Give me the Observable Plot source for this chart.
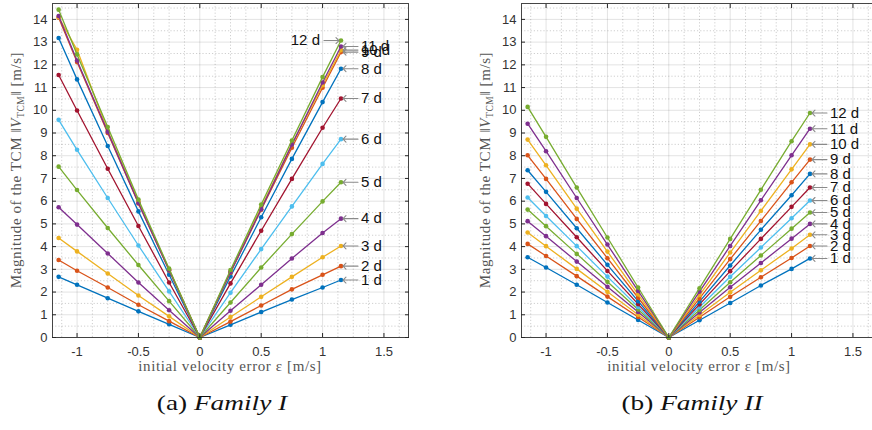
<!DOCTYPE html>
<html><head><meta charset="utf-8">
<script src="https://cdn.jsdelivr.net/npm/d3@7"></script>
<script src="https://cdn.jsdelivr.net/npm/@observablehq/plot@0.6"></script>
<style>
html,body{margin:0;padding:0;background:#fff;overflow:hidden;width:872px;height:430px;}
#wrap{position:relative;width:872px;height:430px;overflow:hidden;}
.panel{position:absolute;top:0;width:436px;height:382px;}
.panel svg{max-width:none !important;width:436px;height:382px;}
.cap{position:absolute;top:391px;font-family:"Liberation Serif",serif;font-size:21px;white-space:nowrap;color:#111;transform:translateX(-50%) scaleX(1.3);transform-origin:center;}
</style></head><body><div id="wrap"></div>
<script>
// x values (initial velocity error, m/s)
const velocityError = [-1.15, -1, -0.75, -0.5, -0.25, 0, 0.25, 0.5, 0.75, 1, 1.15];
const durations = ["1 d","2 d","3 d","4 d","5 d","6 d","7 d","8 d","9 d","10 d","11 d","12 d"];
const seriesColors = ["#0072BD","#D95319","#EDB120","#7E2F8E","#77AC30","#4DBEEE","#A2142F",
                      "#0072BD","#D95319","#EDB120","#7E2F8E","#77AC30"];

// Family I: TCM magnitude [m/s], one row per duration
const familyI = [
  [2.67, 2.32, 1.73, 1.15, 0.58, 0, 0.56, 1.12, 1.67, 2.20, 2.53],
  [3.41, 2.94, 2.20, 1.44, 0.72, 0, 0.70, 1.41, 2.12, 2.76, 3.14],
  [4.38, 3.79, 2.82, 1.85, 0.93, 0, 0.90, 1.79, 2.67, 3.53, 4.03],
  [5.73, 4.97, 3.70, 2.42, 1.20, 0, 1.18, 2.32, 3.48, 4.60, 5.23],
  [7.52, 6.49, 4.82, 3.19, 1.60, 0, 1.54, 3.08, 4.55, 5.99, 6.83],
  [9.58, 8.26, 6.14, 4.05, 2.03, 0, 1.97, 3.89, 5.77, 7.64, 8.73],
  [11.55, 9.99, 7.43, 4.91, 2.42, 0, 2.38, 4.70, 6.98, 9.23, 10.52],
  [13.18, 11.36, 8.43, 5.55, 2.76, 0, 2.69, 5.29, 7.86, 10.36, 11.83],
  [14.07, 12.12, 9.00, 5.90, 2.95, 0, 2.85, 5.62, 8.35, 10.99, 12.56],
  [14.10, 12.66, 9.10, 6.00, 3.00, 0, 2.90, 5.72, 8.50, 11.10, 12.65],
  [14.15, 12.19, 9.05, 5.92, 2.97, 0, 2.88, 5.65, 8.49, 11.22, 12.81],
  [14.43, 12.46, 9.26, 6.07, 3.03, 0, 2.97, 5.85, 8.67, 11.46, 13.07]
];
// Family II
const familyII = [
  [3.53, 3.08, 2.32, 1.54, 0.77, 0, 0.76, 1.52, 2.29, 3.02, 3.48],
  [4.12, 3.59, 2.70, 1.80, 0.90, 0, 0.89, 1.79, 2.65, 3.50, 4.03],
  [4.62, 4.02, 3.02, 2.01, 1.00, 0, 0.99, 1.99, 2.96, 3.92, 4.52],
  [5.12, 4.46, 3.34, 2.23, 1.12, 0, 1.10, 2.21, 3.28, 4.35, 5.00],
  [5.63, 4.90, 3.68, 2.45, 1.23, 0, 1.21, 2.43, 3.61, 4.79, 5.50],
  [6.16, 5.35, 4.02, 2.68, 1.34, 0, 1.33, 2.67, 3.96, 5.25, 6.03],
  [6.77, 5.88, 4.41, 2.93, 1.47, 0, 1.46, 2.92, 4.34, 5.75, 6.60],
  [7.36, 6.41, 4.81, 3.20, 1.60, 0, 1.58, 3.17, 4.74, 6.26, 7.20],
  [8.02, 6.98, 5.22, 3.49, 1.75, 0, 1.72, 3.45, 5.13, 6.83, 7.83],
  [8.71, 7.58, 5.67, 3.78, 1.90, 0, 1.87, 3.74, 5.57, 7.40, 8.50],
  [9.41, 8.20, 6.14, 4.09, 2.05, 0, 2.02, 4.03, 6.04, 8.02, 9.19],
  [10.15, 8.83, 6.60, 4.40, 2.20, 0, 2.17, 4.34, 6.50, 8.64, 9.88]
];
// label arrow side per duration ("right" = "← n d" right of point, "left" = "n d →")
const familyILabelSide  = ["right","right","right","right","right","right","right","right","right","right","right","left"];
const familyIILabelSide = ["right","right","right","right","right","right","right","right","right","right","right","right"];

const xTicks = [-1, -0.5, 0, 0.5, 1, 1.5];
const yTicks = [0,1,2,3,4,5,6,7,8,9,10,11,12,13,14];
const xMinor = [-1.125,-0.875,-0.75,-0.625,-0.375,-0.25,-0.125,0.125,0.25,0.375,0.625,0.75,0.875,1.125,1.25,1.375,1.625];
const yMinor = [0.5,1.5,2.5,3.5,4.5,5.5,6.5,7.5,8.5,9.5,10.5,11.5,12.5,13.5,14.5];
const captions = [["(a) ", "Family I"], ["(b) ", "Family II"]];

const axisColor = "#262626";

function panel(values, sides) {
  const marks = [
    Plot.gridX(xMinor, {stroke: axisColor, strokeOpacity: 0.22, strokeDasharray: "1.2,2"}),
    Plot.gridY(yMinor, {stroke: axisColor, strokeOpacity: 0.22, strokeDasharray: "1.2,2"}),
    Plot.gridX(xTicks, {stroke: axisColor, strokeOpacity: 0.13}),
    Plot.gridY(yTicks, {stroke: axisColor, strokeOpacity: 0.13})
  ];
  values.forEach((row, i) => {
    const pts = row.map((v, j) => ({x: velocityError[j], y: v}));
    marks.push(Plot.line(pts, {x: "x", y: "y", stroke: seriesColors[i], strokeWidth: 1.3}));
    marks.push(Plot.dot(pts, {x: "x", y: "y", fill: seriesColors[i], r: 2.3}));
  });
  const last = values.map((row, i) => ({x: velocityError[velocityError.length - 1], y: row[row.length - 1], label: durations[i], side: sides[i]}));
  const right = last.filter(d => d.side === "right");
  const left = last.filter(d => d.side === "left");
  const font = {fontFamily: "Liberation Sans, Arial, sans-serif", fontSize: 15};
  marks.push(
    Plot.vector(right, {x: "x", y: "y", rotate: -90, length: 15, anchor: "end", shape: "arrow", dx: 2, stroke: "#8a8a8a", strokeWidth: 1.1}),
    Plot.text(right, {x: "x", y: "y", text: "label", dx: 20, textAnchor: "start", fill: "#111", ...font}),
    Plot.vector(left, {x: "x", y: "y", rotate: 90, length: 15, anchor: "end", shape: "arrow", dx: -2, stroke: "#8a8a8a", strokeWidth: 1.1}),
    Plot.text(left, {x: "x", y: "y", text: "label", dx: -21, textAnchor: "end", fill: "#111", ...font}),
    Plot.frame({stroke: axisColor, strokeOpacity: 0.85}),
    Plot.axisY(yTicks, {anchor: "left", tickSize: -4, tickPadding: 9, label: null, tickFormat: d => String(d), fontSize: 13, color: "#333", stroke: axisColor}),
    Plot.axisY(yTicks, {anchor: "right", tickSize: -4, label: null, tickFormat: () => "", stroke: axisColor}),
    Plot.axisX(xTicks, {anchor: "bottom", tickSize: -4, tickPadding: 13, label: null, tickFormat: d => String(d), fontSize: 13, color: "#333", stroke: axisColor}),
    Plot.axisX(xTicks, {anchor: "top", tickSize: -4, label: null, tickFormat: () => "", stroke: axisColor})
  );
  const svg = Plot.plot({
    width: 436, height: 382,
    marginLeft: 52, marginRight: 28, marginTop: 3, marginBottom: 45,
    x: {domain: [-1.2, 1.7]},
    y: {domain: [0, 14.7]},
    style: {fontFamily: "Liberation Sans, Arial, sans-serif", background: "transparent", overflow: "visible", maxWidth: "none"},
    marks
  });
  const s = d3.select(svg);
  s.append("text")
    .attr("x", 230).attr("y", 371).attr("text-anchor", "middle")
    .attr("font-family", "Liberation Serif, serif").attr("font-size", 15).attr("letter-spacing", 0.6).attr("fill", "#555")
    .text("initial velocity error ε [m/s]");
  const yl = s.append("text")
    .attr("transform", "translate(21,170) rotate(-90)").attr("text-anchor", "middle")
    .attr("font-family", "Liberation Serif, serif").attr("font-size", 15).attr("letter-spacing", 0.6).attr("fill", "#555");
  yl.append("tspan").text("Magnitude of the TCM ‖");
  yl.append("tspan").attr("font-style", "italic").text("V");
  yl.append("tspan").attr("font-size", 9.5).attr("dy", 3).text("TCM");
  yl.append("tspan").attr("dy", -3).text("‖ [m/s]");
  return svg;
}

const wrap = document.getElementById("wrap");
[[familyI, familyILabelSide, 0, 222], [familyII, familyIILabelSide, 469, 692]].forEach(([vals, sides, left, capX], k) => {
  const svg = panel(vals, sides);
  const div = document.createElement("div");
  div.className = "panel";
  div.style.left = left + "px";
  div.appendChild(svg);
  wrap.appendChild(div);
  const cap = document.createElement("div");
  cap.className = "cap";
  cap.style.left = capX + "px";
  cap.appendChild(document.createTextNode(captions[k][0]));
  const it = document.createElement("i");
  it.textContent = captions[k][1];
  cap.appendChild(it);
  wrap.appendChild(cap);
});
</script></body></html>
